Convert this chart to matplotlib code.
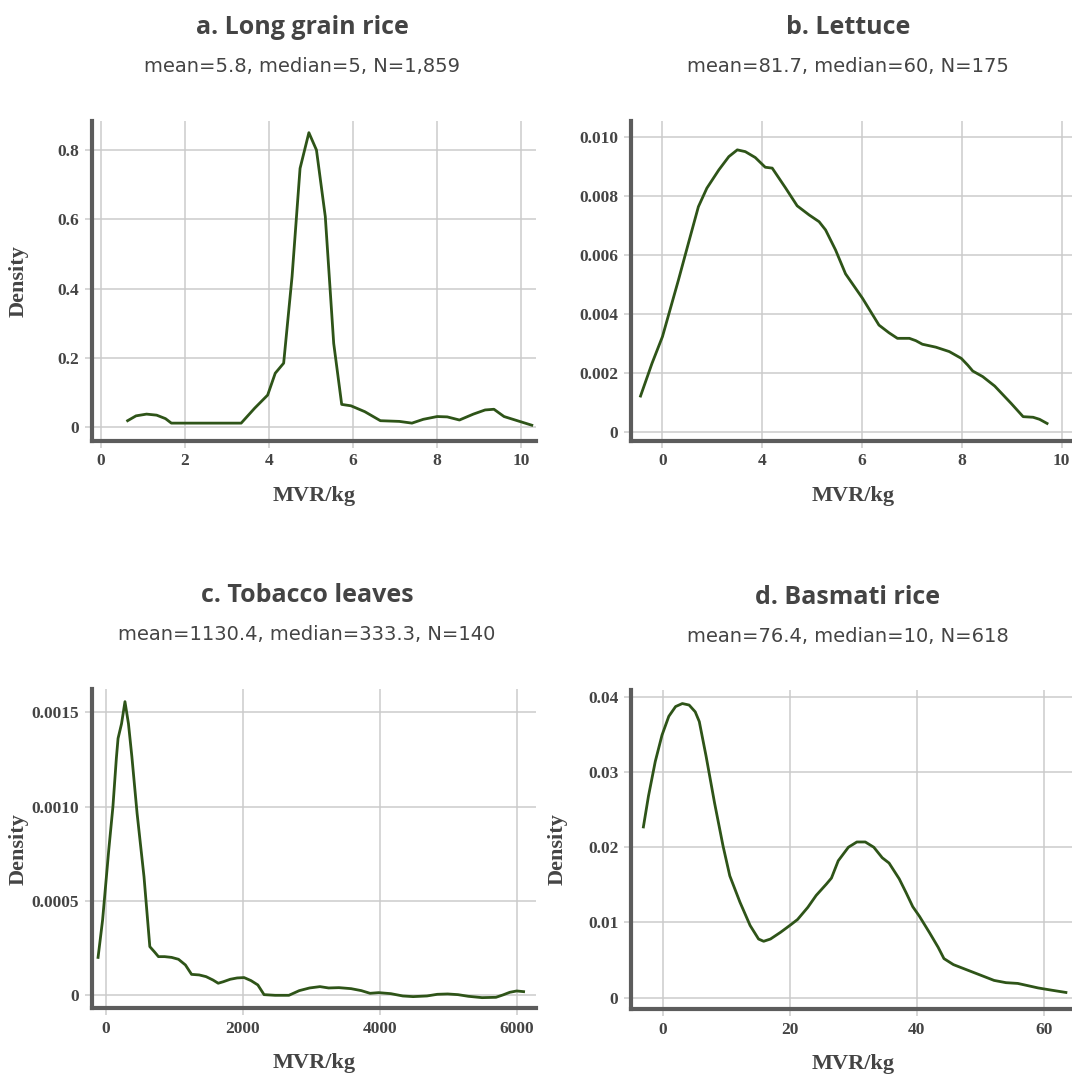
import matplotlib
matplotlib.use("Agg")
import matplotlib.pyplot as plt

W, H = 1072, 1075

plt.rcParams["font.family"] = "Liberation Serif"
plt.rcParams["font.weight"] = "bold"

# a. Long grain rice
rice_x = [0.64, 0.84, 1.09, 1.33, 1.54, 1.68, 3.34, 3.66, 3.97, 4.15, 4.35, 4.55,
          4.74, 4.95, 5.13, 5.34, 5.54, 5.73, 5.95, 6.28, 6.65, 7.10, 7.40, 7.67,
          8.00, 8.24, 8.53, 8.86, 9.14, 9.35, 9.59, 10.25]
rice_y = [0.019, 0.033, 0.038, 0.035, 0.025, 0.012, 0.012, 0.055, 0.093, 0.156,
          0.185, 0.435, 0.747, 0.850, 0.800, 0.608, 0.242, 0.066, 0.062, 0.045,
          0.019, 0.017, 0.012, 0.023, 0.031, 0.030, 0.021, 0.038, 0.050, 0.052,
          0.031, 0.006]

# b. Lettuce
lettuce_x = [1.56, 1.79, 2.00, 2.15, 2.32, 2.52, 2.72, 2.89, 3.13, 3.33, 3.50,
             3.66, 3.86, 4.06, 4.20, 4.47, 4.70, 4.94, 5.14, 5.27, 5.47, 5.67,
             6.01, 6.34, 6.54, 6.71, 6.95, 7.08, 7.21, 7.48, 7.75, 7.99, 8.12,
             8.22, 8.42, 8.66, 8.99, 9.23, 9.43, 9.56, 9.71]
lettuce_y = [0.00121, 0.00232, 0.00323, 0.00413, 0.00515, 0.00640, 0.00764,
             0.00827, 0.00889, 0.00934, 0.00957, 0.00951, 0.00931, 0.00898,
             0.00895, 0.00827, 0.00767, 0.00736, 0.00713, 0.00685, 0.00617,
             0.00536, 0.00453, 0.00362, 0.00336, 0.00317, 0.00317, 0.00309,
             0.00297, 0.00287, 0.00272, 0.00249, 0.00226, 0.00206, 0.00187,
             0.00155, 0.00096, 0.00051, 0.00049, 0.00042, 0.00028]

# c. Tobacco leaves
tobacco_x = [-116, -50, 40, 101, 151, 176, 227, 277, 328, 378, 454, 555, 640, 706,
             766, 857, 958, 1059, 1160, 1250, 1361, 1462, 1563, 1639, 1714, 1815,
             1916, 2017, 2118, 2218, 2309, 2470, 2672, 2823, 2974, 3126, 3252,
             3403, 3580, 3731, 3857, 3983, 4160, 4336, 4487, 4689, 4840, 4991,
             5142, 5294, 5495, 5697, 5798, 5899, 6000, 6101]
tobacco_y = [0.000201, 0.000399, 0.000770, 0.001000, 0.001256, 0.001362, 0.001440,
             0.001557, 0.001440, 0.001265, 0.000965, 0.000629, 0.000258, 0.000231,
             0.000205, 0.000205, 0.000201, 0.000191, 0.000161, 0.000111, 0.000108,
             0.000099, 0.000081, 0.000064, 0.000072, 0.000085, 0.000092, 0.000094,
             0.000078, 0.000055, 0.0000035, 0.0, 0.0, 0.0000247, 0.0000389,
             0.000046, 0.0000389, 0.0000406, 0.0000353, 0.0000247, 0.0000106,
             0.0000141, 0.0000088, -0.0000035, -0.000007, -0.0000035, 0.0000053,
             0.0000071, 0.0000035, -0.0000053, -0.0000124, -0.0000106, 0.0000018,
             0.0000159, 0.000023, 0.0000194]

# d. Basmati rice
basmati_x = [-3.04, -2.24, -1.17, -0.11, 0.96, 2.03, 3.09, 4.16, 5.12, 5.76, 6.83,
             8.16, 9.49, 10.56, 12.16, 13.76, 15.09, 15.89, 16.96, 18.56, 20.16,
             21.23, 22.83, 24.16, 25.76, 26.56, 27.63, 29.23, 30.56, 31.89, 33.23,
             34.56, 35.63, 37.23, 38.29, 39.36, 40.43, 42.03, 43.36, 44.27, 45.76,
             47.89, 50.03, 52.16, 54.03, 55.89, 57.49, 59.09, 61.23, 63.47]
basmati_y = [0.0227, 0.0268, 0.0314, 0.0349, 0.0374, 0.0387, 0.0391, 0.0389,
             0.0380, 0.0367, 0.0321, 0.0259, 0.0202, 0.0162, 0.0127, 0.0096,
             0.0078, 0.0075, 0.0078, 0.0087, 0.0097, 0.0104, 0.0120, 0.0136,
             0.0151, 0.0159, 0.0182, 0.0200, 0.0207, 0.0207, 0.0200, 0.0186,
             0.0179, 0.0158, 0.0140, 0.0121, 0.0108, 0.0086, 0.0067, 0.0052,
             0.0044, 0.0037, 0.0030, 0.0023, 0.0020, 0.0019, 0.0016, 0.0013,
             0.0010, 0.0007]

titles = ["a. Long grain rice", "b. Lettuce", "c. Tobacco leaves", "d. Basmati rice"]
subtitles = ["mean=5.8, median=5, N=1,859",
             "mean=81.7, median=60, N=175",
             "mean=1130.4, median=333.3, N=140",
             "mean=76.4, median=10, N=618"]

rice_xticks = [0, 2, 4, 6, 8, 10]
rice_xlabels = ["0", "2", "4", "6", "8", "10"]
rice_yticks = [0, 0.2, 0.4, 0.6, 0.8]
rice_ylabels = ["0", "0.2", "0.4", "0.6", "0.8"]
lettuce_xticks = [2, 4, 6, 8, 10]
lettuce_xlabels = ["0", "4", "6", "8", "10"]
lettuce_yticks = [0, 0.002, 0.004, 0.006, 0.008, 0.010]
lettuce_ylabels = ["0", "0.002", "0.004", "0.006", "0.008", "0.010"]
tobacco_xticks = [0, 2000, 4000, 6000]
tobacco_xlabels = ["0", "2000", "4000", "6000"]
tobacco_yticks = [0, 0.0005, 0.0010, 0.0015]
tobacco_ylabels = ["0", "0.0005", "0.0010", "0.0015"]
basmati_xticks = [0, 20, 40, 60]
basmati_xlabels = ["0", "20", "40", "60"]
basmati_yticks = [0, 0.01, 0.02, 0.03, 0.04]
basmati_ylabels = ["0", "0.01", "0.02", "0.03", "0.04"]

TEXT = "#444444"
GRID = "#cbcbcb"
SPINE = "#5c5c5c"
LINE = "#2e5418"

fig = plt.figure(figsize=(W / 100, H / 100), dpi=100)
fig.patch.set_facecolor("white")


def panel(box, xs, ys, xlim, ylim, xt, xl, yt, yl, title, subtitle, tx, show_ylabel):
    left, top, right, bottom = box
    ax = fig.add_axes([left / W, 1 - bottom / H, (right - left) / W, (bottom - top) / H])
    ax.plot(xs, ys, color=LINE, lw=2.0, solid_joinstyle="round", zorder=3)
    ax.set_xlim(*xlim)
    ax.set_ylim(*ylim)
    ax.set_xticks(xt, xl)
    ax.set_yticks(yt, yl)
    ax.grid(True, color=GRID, lw=1.1)
    ax.set_axisbelow(True)
    for side in ("top", "right"):
        ax.spines[side].set_visible(False)
    for side in ("left", "bottom"):
        ax.spines[side].set_color(SPINE)
        ax.spines[side].set_linewidth(3.0)
        ax.spines[side].set_zorder(4)
    ax.tick_params(length=5, width=1.1, color=GRID, labelcolor=TEXT,
                   labelsize=12.5, pad=4)
    # titles and axis labels
    shift = (top - 121) / H
    fig.text(tx / W, 1 - 28 / H - shift, title, ha="center", va="center",
             family="Open Sans", weight="bold", size=18, color=TEXT)
    fig.text(tx / W, 1 - 67 / H - shift, subtitle, ha="center", va="center",
             family="DejaVu Sans", weight="normal", size=14, color=TEXT)
    fig.text((left + right) / 2 / W, 1 - (bottom + 55) / H, "MVR/kg",
             ha="center", va="center", size=16, color=TEXT)
    if show_ylabel:
        fig.text((left - 73) / W, 1 - (top + bottom) / 2 / H, "Density", rotation=90,
                 ha="center", va="center", size=16, color=TEXT)
    return ax


panel((91.7, 121, 536, 440.7), rice_x, rice_y, (-0.214, 10.35), (-0.0387, 0.8837),
      rice_xticks, rice_xlabels, rice_yticks, rice_ylabels,
      titles[0], subtitles[0], 302, True)
panel((631, 121, 1075, 440.7), lettuce_x, lettuce_y, (1.369, 10.27), (-0.000306, 0.01055),
      lettuce_xticks, lettuce_xlabels, lettuce_yticks, lettuce_ylabels,
      titles[1], subtitles[1], 848, False)
panel((91.7, 689, 536, 1008.3), tobacco_x, tobacco_y, (-209, 6282), (-0.0000689, 0.001624),
      tobacco_xticks, tobacco_xlabels, tobacco_yticks, tobacco_ylabels,
      titles[2], subtitles[2], 307, True)
panel((631, 690, 1075, 1009), basmati_x, basmati_y, (-4.99, 64.9), (-0.0015, 0.0409),
      basmati_xticks, basmati_xlabels, basmati_yticks, basmati_ylabels,
      titles[3], subtitles[3], 848, True)

fig.savefig("out.png", dpi=100)
